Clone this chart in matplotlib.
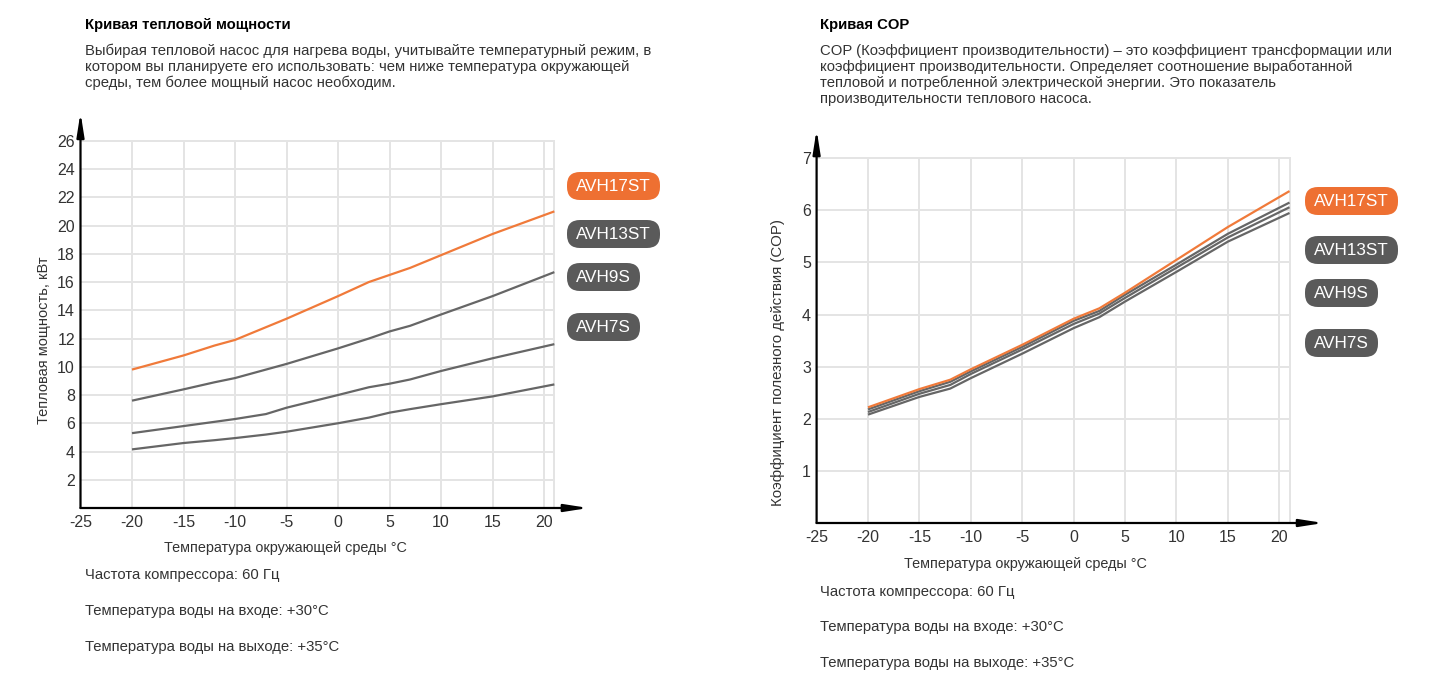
import matplotlib.pyplot as plt
from matplotlib.patches import FancyBboxPatch

plt.rcParams['font.family'] = ['Liberation Sans', 'DejaVu Sans']
plt.rcParams['axes.unicode_minus'] = False

# ---- data ----
models = ["AVH17ST", "AVH13ST", "AVH9S", "AVH7S"]

temp_power = [-20, -15, -12, -10, -7, -5, 0, 3, 5, 7, 10, 15, 21]
power_avh17st = [9.8, 10.8, 11.5, 11.9, 12.8, 13.4, 15.0, 16.0, 16.5, 17.0, 17.9, 19.4, 21.0]
power_avh13st = [7.6, 8.4, 8.9, 9.2, 9.8, 10.2, 11.3, 12.0, 12.5, 12.9, 13.7, 15.0, 16.7]
power_avh9s = [5.3, 5.8, 6.1, 6.3, 6.65, 7.1, 8.0, 8.55, 8.8, 9.1, 9.7, 10.6, 11.6]
power_avh7s = [4.15, 4.6, 4.8, 4.95, 5.2, 5.4, 6.0, 6.4, 6.75, 7.0, 7.35, 7.9, 8.75]

temp_cop = [-20, -15, -12, -10, -5, 0, 2.5, 5, 10, 15, 21]
cop_avh17st = [2.22, 2.57, 2.75, 2.95, 3.42, 3.92, 4.12, 4.42, 5.05, 5.68, 6.37]
cop_avh13st = [2.18, 2.53, 2.71, 2.91, 3.38, 3.88, 4.07, 4.38, 4.96, 5.55, 6.15]
cop_avh9s = [2.13, 2.48, 2.65, 2.86, 3.33, 3.82, 4.02, 4.32, 4.90, 5.48, 6.06]
cop_avh7s = [2.08, 2.42, 2.58, 2.78, 3.25, 3.74, 3.95, 4.25, 4.82, 5.40, 5.95]

x_ticks = [-25, -20, -15, -10, -5, 0, 5, 10, 15, 20]
power_ticks = [2, 4, 6, 8, 10, 12, 14, 16, 18, 20, 22, 24, 26]
cop_ticks = [1, 2, 3, 4, 5, 6, 7]

title_power = "Кривая тепловой мощности"
text_power = ["Выбирая тепловой насос для нагрева воды, учитывайте температурный режим, в",
              "котором вы планируете его использовать: чем ниже температура окружающей",
              "среды, тем более мощный насос необходим."]
title_cop = "Кривая COP"
text_cop = ["COP (Коэффициент производительности) – это коэффициент трансформации или",
            "коэффициент производительности. Определяет соотношение выработанной",
            "тепловой и потребленной электрической энергии. Это показатель",
            "производительности теплового насоса."]
notes = ["Частота компрессора: 60 Гц",
         "Температура воды на входе: +30°C",
         "Температура воды на выходе: +35°C"]
xlabel = "Температура окружающей среды °C"

ORANGE = "#f07a3a"
GRAY = "#666666"
BADGE_ORANGE = "#ee7032"
BADGE_GRAY = "#5a5a5a"
GRID = "#e4e4e4"
TXT = "#333333"
FS = 10.7

W, H = 1440, 679
fig = plt.figure(figsize=(W / 100, H / 100), dpi=100)


def px(x, y):
    return x / W, 1 - y / H


def draw_chart(rect, xs, series, yticks, ytop, ylim, x_edge=21):
    ax = fig.add_axes(rect)
    ax.set_xlim(-25, 24.5)
    ax.set_ylim(0, ylim)
    for s in ax.spines.values():
        s.set_visible(False)
    # grid
    for t in x_ticks[1:] + [x_edge]:
        ax.plot([t, t], [0, yticks[-1]], color=GRID, lw=1.4, zorder=1)
    for t in yticks:
        ax.plot([-25, x_edge], [t, t], color=GRID, lw=1.4, zorder=1)
    # lines: grays first, orange on top
    colors = [ORANGE, GRAY, GRAY, GRAY]
    for ys, c in list(zip(series, colors))[::-1]:
        ax.plot(xs, ys, color=c, lw=1.6, zorder=3, solid_capstyle='butt')
    # arrows
    ap = dict(arrowstyle='-|>,head_length=1.4,head_width=0.22', color='black', lw=1.6,
              shrinkA=0, shrinkB=0)
    ax.annotate('', xy=(24.3, 0), xytext=(-25, 0), arrowprops=ap, annotation_clip=False)
    ax.annotate('', xy=(-25, ytop), xytext=(-25, 0), arrowprops=ap, annotation_clip=False)
    ax.set_xticks(x_ticks)
    ax.set_yticks(yticks)
    ax.tick_params(length=0, labelsize=11.5, labelcolor=TXT)
    ax.tick_params(axis='x', pad=5)
    ax.tick_params(axis='y', pad=4)
    return ax


# left chart
draw_chart([80.5 / W, (H - 508) / H, 509.9 / W, 398.3 / H], temp_power,
           [power_avh17st, power_avh13st, power_avh9s, power_avh7s],
           power_ticks, 28.0, 28.2)
# right chart
draw_chart([816.6 / W, (H - 523) / H, 508.9 / W, 401.2 / H], temp_cop,
           [cop_avh17st, cop_avh13st, cop_avh9s, cop_avh7s],
           cop_ticks, 7.55, 7.7)

# headings and paragraphs
fig.text(*px(85, 25), title_power, fontsize=FS, fontweight='bold', color='black', va='center')
for i, line in enumerate(text_power):
    fig.text(*px(85, 51 + 16 * i), line, fontsize=FS, color=TXT, va='center')
fig.text(*px(820, 25), title_cop, fontsize=FS, fontweight='bold', color='black', va='center')
for i, line in enumerate(text_cop):
    fig.text(*px(820, 51 + 16 * i), line, fontsize=FS, color=TXT, va='center')

# axis labels
fig.text(*px(285, 548), xlabel, fontsize=10.4, color=TXT, ha='center', va='center')
fig.text(*px(1025, 564), xlabel, fontsize=10.4, color=TXT, ha='center', va='center')
fig.text(*px(44, 340), "Тепловая мощность, кВт", fontsize=10.5, color=TXT,
         rotation=90, ha='center', va='center')
fig.text(*px(778, 362), "Коэффициент полезного действия (COP)", fontsize=10.8, color=TXT,
         rotation=90, ha='center', va='center')

# notes
for i, line in enumerate(notes):
    fig.text(*px(85, 575 + 36 * i), line, fontsize=FS, color=TXT, va='center')
    fig.text(*px(820, 592 + 35.5 * i), line, fontsize=FS, color=TXT, va='center')

# legend badges, drawn on a pixel-unit overlay
ov = fig.add_axes([0, 0, 1, 1])
ov.set_xlim(0, W)
ov.set_ylim(H, 0)
ov.axis('off')
badge_top_left = [172, 220, 263, 313]
badge_top_right = [187, 236, 279, 329]
badge_colors = [BADGE_ORANGE, BADGE_GRAY, BADGE_GRAY, BADGE_GRAY]
for name, c, tl, tr in zip(models, badge_colors, badge_top_left, badge_top_right):
    bw = 10 * len(name) + 23
    for x0, y0 in [(567, tl), (1305, tr)]:
        ov.add_patch(FancyBboxPatch((x0, y0), bw, 28,
                                    boxstyle='round,pad=0,rounding_size=13',
                                    fc=c, ec='none'))
        ov.text(x0 + bw / 2, y0 + 14.5, name, fontsize=12.3, color='white',
                ha='center', va='center')

fig.savefig("out.png", dpi=100)
